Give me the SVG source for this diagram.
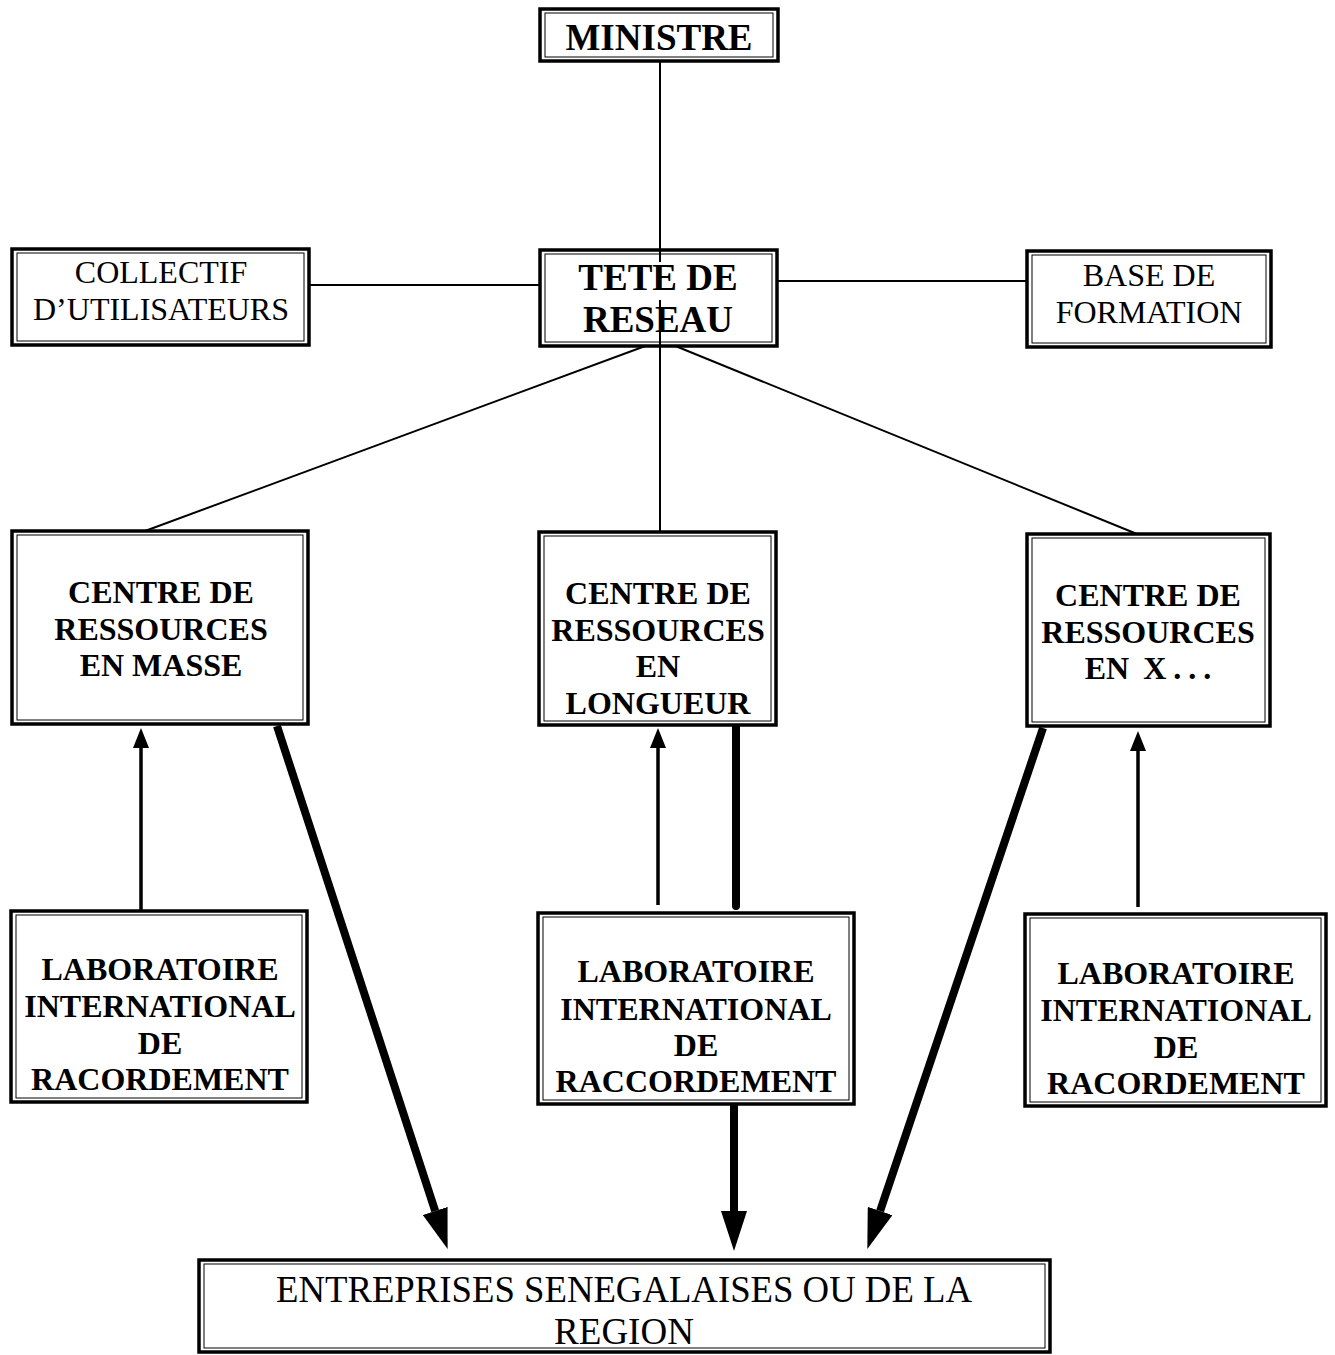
<svg xmlns="http://www.w3.org/2000/svg" width="1335" height="1355" viewBox="0 0 1335 1355">
<style>
.outer{fill:#fff;stroke:#000;stroke-width:3.5}
.inner{fill:none;stroke:#000;stroke-width:1}
.b{font-family:"Liberation Serif","Times New Roman",serif;font-weight:bold;font-size:32px;text-anchor:middle;fill:#000}
.r{font-family:"Liberation Serif","Times New Roman",serif;font-size:32px;text-anchor:middle;fill:#000}
.big{font-size:37px}
.r.ent{font-size:37px}
.thin{stroke:#000;stroke-width:2;fill:none}
.tarrow{stroke:#000;stroke-width:3.5;fill:none}
.thick{stroke:#000;stroke-width:8;fill:none}
</style>
<defs>
<marker id="headThick" markerUnits="userSpaceOnUse" markerWidth="40" markerHeight="26" refX="0" refY="13" orient="auto" viewBox="0 0 40 26">
<path d="M0,0 L40,13 L0,26 z" fill="#000"/>
</marker>
<marker id="headThin" markerUnits="userSpaceOnUse" markerWidth="20" markerHeight="16" refX="0" refY="8" orient="auto" viewBox="0 0 20 16">
<path d="M0,0 L20,8 L0,16 z" fill="#000"/>
</marker>
</defs>
<rect width="1335" height="1355" fill="#fff"/>
<g id="connectors">
<line class="thin" x1="660" y1="60" x2="660" y2="532"/>
<line class="thin" x1="305" y1="285" x2="545" y2="285"/>
<line class="thin" x1="775" y1="281" x2="1028" y2="281"/>
<line class="thin" x1="648" y1="345" x2="145" y2="531"/>
<line class="thin" x1="673" y1="345" x2="1137" y2="534"/>
<line class="tarrow" x1="141" y1="922" x2="141" y2="748" marker-end="url(#headThin)"/>
<line class="tarrow" x1="658" y1="905" x2="658" y2="748" marker-end="url(#headThin)"/>
<line class="tarrow" x1="1138" y1="907" x2="1138" y2="751" marker-end="url(#headThin)"/>
<line class="thick" x1="736" y1="727" x2="736" y2="906" stroke-linecap="round"/>
<line class="thick" x1="277" y1="726" x2="435.2" y2="1210.9" marker-end="url(#headThick)"/>
<line class="thick" x1="734" y1="1104" x2="734" y2="1211" marker-end="url(#headThick)"/>
<line class="thick" x1="1043" y1="728" x2="880.1" y2="1211" marker-end="url(#headThick)"/>
</g>
<g id="ministre">
<rect class="outer" x="540" y="9" width="238" height="52"/>
<rect class="inner" x="545" y="13" width="228" height="44"/>
<text class="b big" x="659" y="50">MINISTRE</text>
</g>
<g id="collectif">
<rect class="outer" x="12" y="249" width="297" height="96"/>
<rect class="inner" x="17" y="253" width="287" height="88"/>
<text class="r" x="161" y="283">COLLECTIF</text>
<text class="r" x="161" y="320">D’UTILISATEURS</text>
</g>
<g id="tete">
<rect class="outer" x="540" y="250" width="237" height="96"/>
<rect class="inner" x="545" y="254" width="227" height="88"/>
<line class="thin" x1="660" y1="250" x2="660" y2="262"/>
<line class="thin" x1="660" y1="300" x2="660" y2="346"/>
<text class="b big" x="658" y="290">TETE DE</text>
<text class="b big" x="658" y="332">RESEAU</text>
</g>
<g id="base">
<rect class="outer" x="1027" y="251" width="244" height="96"/>
<rect class="inner" x="1032" y="255" width="234" height="88"/>
<text class="r" x="1149" y="286">BASE DE</text>
<text class="r" x="1149" y="323">FORMATION</text>
</g>
<g id="centre-masse">
<rect class="outer" x="12" y="531" width="296" height="193"/>
<rect class="inner" x="17" y="535" width="286" height="185"/>
<text class="b" x="161" y="603">CENTRE DE</text>
<text class="b" x="161" y="640">RESSOURCES</text>
<text class="b" x="161" y="676">EN MASSE</text>
</g>
<g id="centre-longueur">
<rect class="outer" x="539" y="532" width="237" height="193"/>
<rect class="inner" x="544" y="536" width="227" height="185"/>
<text class="b" x="658" y="604">CENTRE DE</text>
<text class="b" x="658" y="641">RESSOURCES</text>
<text class="b" x="658" y="677">EN</text>
<text class="b" x="658" y="714">LONGUEUR</text>
</g>
<g id="centre-x">
<rect class="outer" x="1027" y="534" width="243" height="192"/>
<rect class="inner" x="1032" y="538" width="233" height="184"/>
<text class="b" x="1148" y="606">CENTRE DE</text>
<text class="b" x="1148" y="643">RESSOURCES</text>
<text class="b" x="1148" y="679">EN <tspan dx="6">X</tspan><tspan dx="7">.</tspan><tspan dx="7">.</tspan><tspan dx="7">.</tspan></text>
</g>
<g id="lab-masse">
<rect class="outer" x="11" y="911" width="296" height="191"/>
<rect class="inner" x="16" y="915" width="286" height="183"/>
<text class="b" x="160" y="980">LABORATOIRE</text>
<text class="b" x="160" y="1017">INTERNATIONAL</text>
<text class="b" x="160" y="1054">DE</text>
<text class="b" x="160" y="1090">RACORDEMENT</text>
</g>
<g id="lab-longueur">
<rect class="outer" x="538" y="913" width="316" height="191"/>
<rect class="inner" x="543" y="917" width="306" height="183"/>
<text class="b" x="696" y="982">LABORATOIRE</text>
<text class="b" x="696" y="1020">INTERNATIONAL</text>
<text class="b" x="696" y="1056">DE</text>
<text class="b" x="696" y="1092">RACCORDEMENT</text>
</g>
<g id="lab-x">
<rect class="outer" x="1025" y="914" width="301" height="192"/>
<rect class="inner" x="1030" y="918" width="291" height="184"/>
<text class="b" x="1176" y="984">LABORATOIRE</text>
<text class="b" x="1176" y="1021">INTERNATIONAL</text>
<text class="b" x="1176" y="1058">DE</text>
<text class="b" x="1176" y="1094">RACORDEMENT</text>
</g>
<g id="entreprises">
<rect class="outer" x="199" y="1260" width="851" height="92"/>
<rect class="inner" x="204" y="1264" width="841" height="84"/>
<text class="r ent" x="624" y="1302" textLength="696" lengthAdjust="spacingAndGlyphs">ENTREPRISES SENEGALAISES OU DE LA</text>
<text class="r ent" x="624" y="1344">REGION</text>
</g>
</svg>
